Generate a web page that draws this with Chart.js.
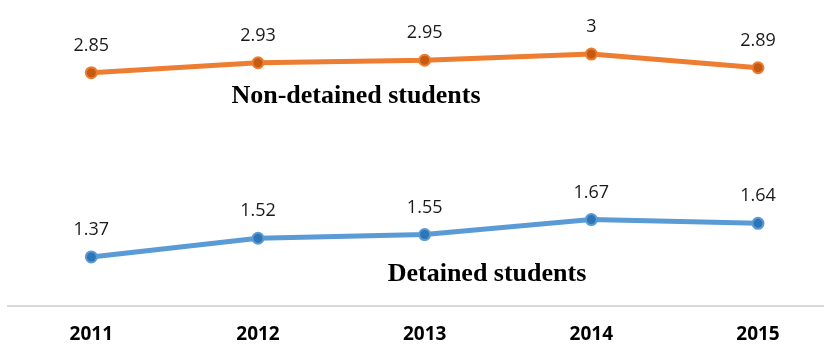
<!DOCTYPE html>
<html lang="en">
  <head>
    <meta charset="UTF-8" />
    <title>Students chart</title>
    <script src="https://cdn.jsdelivr.net/npm/chart.js"></script>
    <style>
      body {
        margin: 0;
        background: #ffffff;
      }
    </style>
  </head>
  <body>
    <canvas id="chart" width="833" height="344"></canvas>
    <script>
      const years = [2011, 2012, 2013, 2014, 2015];
      const nonDetained = [2.85, 2.93, 2.95, 3, 2.89];
      const detained = [1.37, 1.52, 1.55, 1.67, 1.64];
      const seriesNames = ["Non-detained students", "Detained students"];

      const toPoints = (vals) => years.map((yr, i) => ({ x: yr, y: vals[i] }));

      // value labels above every point
      const valueLabels = {
        id: "valueLabels",
        afterDatasetsDraw(chart) {
          const ctx = chart.ctx;
          ctx.save();
          ctx.font = "18px 'Open Sans'";
          ctx.fillStyle = "#1a1a1a";
          ctx.textAlign = "center";
          ctx.textBaseline = "alphabetic";
          chart.data.datasets.forEach((ds, di) => {
            chart.getDatasetMeta(di).data.forEach((pt, i) => {
              ctx.fillText(String(ds.data[i].y), pt.x, pt.y - 22);
            });
          });
          ctx.restore();
        },
      };

      // series names written inside the plot
      const seriesText = {
        id: "seriesText",
        afterDatasetsDraw(chart) {
          const ctx = chart.ctx;
          ctx.save();
          ctx.font = "bold 26px 'Liberation Serif'";
          ctx.fillStyle = "#000000";
          ctx.textAlign = "center";
          ctx.textBaseline = "alphabetic";
          ctx.fillText(seriesNames[0], 356, 103);
          ctx.fillText(seriesNames[1], 487, 281);
          ctx.restore();
        },
      };

      new Chart(document.getElementById("chart").getContext("2d"), {
        type: "line",
        data: {
          datasets: [
            {
              label: seriesNames[0],
              data: toPoints(nonDetained),
              borderColor: "#ED7D31",
              backgroundColor: "#C55A11",
              pointBackgroundColor: "#C55A11",
              pointBorderColor: "#ED7D31",
              pointBorderWidth: 2,
              pointRadius: 5.5,
              borderWidth: 5,
              tension: 0,
            },
            {
              label: seriesNames[1],
              data: toPoints(detained),
              borderColor: "#5B9BD5",
              backgroundColor: "#2E75B6",
              pointBackgroundColor: "#2E75B6",
              pointBorderColor: "#5B9BD5",
              pointBorderWidth: 2,
              pointRadius: 5.5,
              borderWidth: 5,
              tension: 0,
            },
          ],
        },
        options: {
          responsive: false,
          animation: false,
          devicePixelRatio: 1,
          layout: {
            autoPadding: false,
            padding: { left: 8, right: 10, top: 0, bottom: 0 },
          },
          plugins: {
            legend: { display: false },
            tooltip: { enabled: false },
          },
          scales: {
            x: {
              type: "linear",
              min: 2010.5,
              max: 2015.39,
              afterBuildTicks: (scale) => {
                scale.ticks = years.map((v) => ({ value: v }));
              },
              afterFit: (scale) => {
                scale.height = 38;
              },
              grid: { display: false, drawTicks: false },
              border: { display: true, color: "#D9D9D9", width: 2 },
              ticks: {
                padding: 17,
                color: "#000000",
                font: { family: "'Open Sans'", size: 19, weight: "bold" },
                callback: (v) => String(v),
                maxRotation: 0,
              },
            },
            y: {
              display: false,
              min: 0.976,
              max: 3.434,
            },
          },
          clip: false,
        },
        plugins: [valueLabels, seriesText],
      });
    </script>
  </body>
</html>
